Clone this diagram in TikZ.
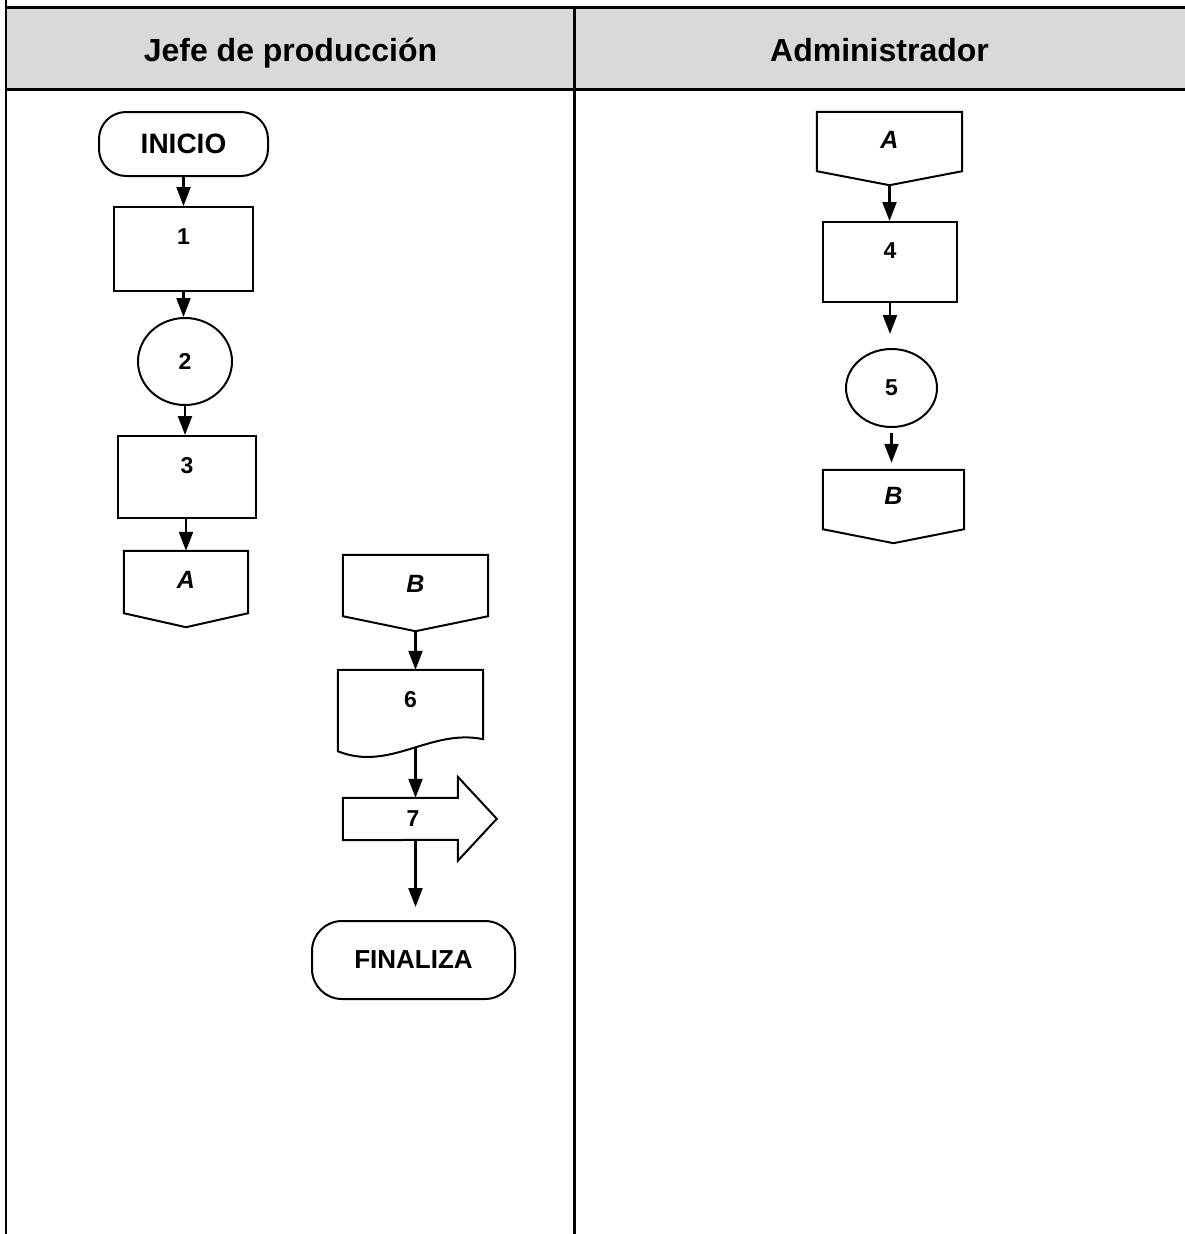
\documentclass[tikz,border=0pt]{standalone}
\usepackage{fontspec}
\setmainfont{Liberation Sans}
\usetikzlibrary{arrows.meta,calc,shapes.geometric}
\definecolor{headgray}{RGB}{217,217,217}

% outline of an off-page connector: box with a pointed bottom
\newcommand{\offpageoutline}[2]{%
  \draw[outline] (#1.north west) -- (#1.north east) -- ([yshift=#2]#1.south east)
    -- (#1.south) -- ([yshift=#2]#1.south west) -- cycle;}

\begin{document}
\begin{tikzpicture}[x=1pt,y=-1pt,
  rule/.style={line width=2.4pt},
  outline/.style={line width=2pt},
  flow/.style={line width=2.2pt,-{Triangle[width=14pt,length=19pt]}},
  lanehead/.style={font=\fontsize{32}{38}\selectfont\bfseries},
  terminal/.style={draw,line width=2pt,rounded corners=27pt,inner sep=0pt},
  procbox/.style={draw,line width=2pt,rectangle,inner xsep=0pt,inner ysep=0pt,
    font=\fontsize{23}{27}\selectfont\bfseries},
  roundop/.style={draw,line width=2pt,ellipse,inner sep=0pt,
    font=\fontsize{23}{27}\selectfont\bfseries},
  offpage/.style={rectangle,inner xsep=0pt,inner ysep=0pt,
    font=\fontsize{25}{29}\selectfont\bfseries\itshape},
  docbox/.style={rectangle,inner xsep=0pt,inner ysep=0pt,
    font=\fontsize{23}{27}\selectfont\bfseries}
]
\useasboundingbox (0,0) rectangle (1185,1234);

% swimlane table
\fill[headgray] (7,7.3) rectangle (1185,89.3);
\draw[rule] (6,7.3) -- (1185,7.3);
\draw[rule] (6,89.3) -- (1185,89.3);
\draw[rule] (6,0) -- (6,1234);
\draw[rule] (574.3,7.3) -- (574.3,1234);
\node[lanehead,anchor=base] (laneA) at (290.5,61) {Jefe de producción};
\node[lanehead,anchor=base] (laneB) at (879.5,61) {Administrador};

% left lane
\node[terminal,minimum width=169pt,minimum height=64pt,
  font=\fontsize{28}{32}\selectfont\bfseries] (inicio) at (183.5,144) {INICIO};
\node[procbox,minimum width=139pt,text height=37pt,text depth=47pt] (p1) at (183.5,249) {1};
\node[roundop,minimum width=94pt,minimum height=87pt] (p2) at (185,361.5) {2};
\node[procbox,minimum width=138pt,text height=37pt,text depth=45pt] (p3) at (187,477) {3};
\node[offpage,minimum width=124pt,text height=37pt,text depth=39pt] (aL) at (186,589) {A};
\offpageoutline{aL}{14pt}

\node[offpage,minimum width=145pt,text height=37pt,text depth=39pt] (bL) at (415.5,593) {B};
\offpageoutline{bL}{15pt}

\node[docbox,minimum width=145pt,text height=37pt,text depth=40pt] (d6) at (410.5,708.5) {6};
\draw[outline] (d6.north west) -- (d6.north east) -- ([yshift=8pt]d6.south east)
  .. controls ($(d6.south east)+(-53,-19)$) and ($(d6.south west)+(52,25)$)
  .. ([yshift=-4pt]d6.south west) -- cycle;

\node[docbox,minimum width=140pt,minimum height=42pt] (s7) at (413,819) {7};
\draw[outline] (s7.north west) -- ++(115,0) -- ++(0,-21) -- ++(39,42)
  -- ++(-39,42) -- ++(0,-21) -- (s7.south west) -- cycle;

\node[terminal,minimum width=203pt,minimum height=78pt,rounded corners=30pt,
  font=\fontsize{26}{30}\selectfont\bfseries] (fin) at (413.5,960) {FINALIZA};

% right lane
\node[offpage,minimum width=145pt,text height=36pt,text depth=37pt] (aR) at (889.5,148.5) {A};
\offpageoutline{aR}{14pt}
\node[procbox,minimum width=134pt,text height=36pt,text depth=44pt] (p4) at (890,262) {4};
\node[roundop,minimum width=91pt,minimum height=78pt] (p5) at (891.5,388) {5};
\node[offpage,minimum width=141pt,text height=34pt,text depth=39pt] (bR) at (893.5,506.5) {B};
\offpageoutline{bR}{14pt}

% connectors
\draw[flow] (inicio.south) -- (inicio.south |- p1.north);
\draw[flow] (p1.south) -- (p1.south |- p2.north);
\draw[flow] (p2.south) -- (p2.south |- p3.north);
\draw[flow] (p3.south -| aL.south) -- (aL.north);
\draw[flow] (bL.south) -- (bL.south |- d6.north);
\draw[flow] (d6.south -| bL.south) -- (bL.south |- s7.north);
\draw[flow,shorten >=13pt] (s7.south -| bL.south) -- (bL.south |- fin.north);
\draw[flow] (aR.south) -- (aR.south |- p4.north);
\draw[flow,shorten >=14pt] (p4.south) -- (p4.south |- p5.north);
\draw[flow,shorten <=5pt,shorten >=7pt] (p5.south) -- (p5.south |- bR.north);
\end{tikzpicture}
\end{document}
